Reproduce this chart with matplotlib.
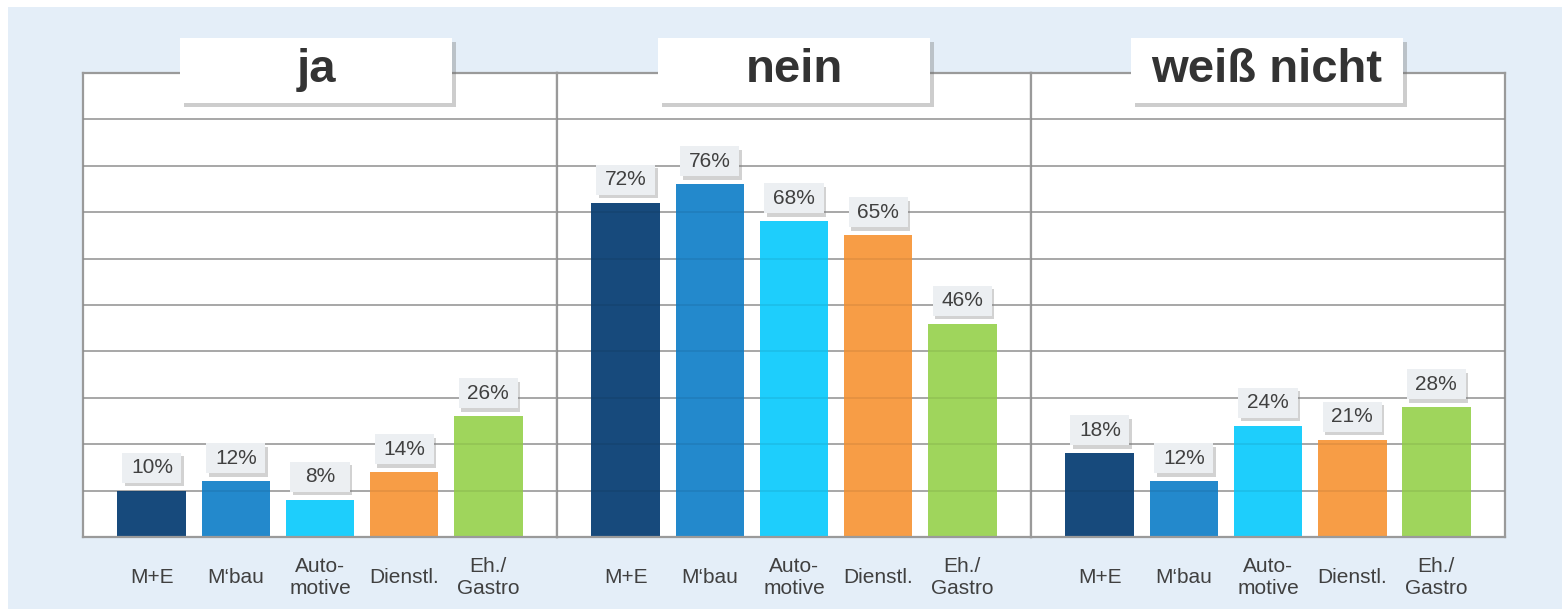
import matplotlib
matplotlib.use("Agg")
import matplotlib.pyplot as plt
from matplotlib.patches import Rectangle
import matplotlib.patheffects as pe

plt.rcParams['font.family'] = ['Liberation Sans', 'DejaVu Sans']

# ---- data ----
panels = ["ja", "nein", "weiß nicht"]
categories = ["M+E", "M‘bau", "Auto-\nmotive", "Dienstl.", "Eh./\nGastro"]
values_ja = [10, 12, 8, 14, 26]
values_nein = [72, 76, 68, 65, 46]
values_weiss = [18, 12, 24, 21, 28]
all_values = [values_ja, values_nein, values_weiss]
bar_colors = ["#174a7c", "#2389cc", "#1ecefc", "#f79d46", "#9fd55c"]

W, H = 1562, 609
fig = plt.figure(figsize=(W / 100, H / 100), dpi=100, facecolor="white")

# light blue background area
fig.add_artist(Rectangle((8 / W, 0), 1 - 8 / W, (H - 7) / H, transform=fig.transFigure,
                         facecolor="#e4eef8", edgecolor="none", zorder=-10))

left0, panel_w = 83, 474
top_px, bot_px = 73, 537
ax_h = bot_px - top_px
px_per_pct = ax_h / 100.0
title_shift = [-4, 0, -1]

for g, (title, vals) in enumerate(zip(panels, all_values)):
    ax = fig.add_axes([(left0 + panel_w * g) / W, (H - bot_px) / H, panel_w / W, ax_h / H])
    ax.set_facecolor("white")
    ax.set_xlim(-0.82, 4.82)
    ax.set_ylim(0, 100)
    yt = list(range(0, 101, 10))
    ax.set_yticks(yt)
    ax.yaxis.grid(True, color="#a8a8a8", linewidth=1.2, zorder=0)
    ax.set_axisbelow(True)
    ax.tick_params(axis="y", length=0, labelleft=False)
    for s in ax.spines.values():
        s.set_color("#9a9a9a")
        s.set_linewidth(1.6)

    x = list(range(len(categories)))
    ax.bar(x, vals, width=0.82, color=bar_colors, zorder=2, linewidth=0)
    # faint grid lines showing through the bars
    for t in yt[1:-1]:
        ax.axhline(t, color="#000000", alpha=0.08, linewidth=1.2, zorder=3)

    ax.set_xticks(x)
    ax.set_xticklabels(categories, fontsize=15, color="#404040", linespacing=1.2)
    ax.tick_params(axis="x", length=0, pad=29)
    for lbl in ax.get_xticklabels():
        lbl.set_verticalalignment("center")

    # value label boxes
    box_w = 59 / 84.0
    box_h = 30 / px_per_pct
    gap = 8 / px_per_pct
    for xi, v in zip(x, vals):
        r = Rectangle((xi - box_w / 2, v + gap), box_w, box_h, facecolor="#eceff2",
                      edgecolor="none", zorder=4, clip_on=False)
        r.set_path_effects([pe.SimplePatchShadow(offset=(2, -2.5), shadow_rgbFace="#808080", alpha=0.35),
                            pe.Normal()])
        ax.add_patch(r)
        ax.text(xi, v + gap + box_h / 2, f"{v}%", ha="center", va="center", fontsize=15,
                color="#404040", zorder=5, clip_on=False)

    # title box
    cx = (left0 + panel_w * g + panel_w / 2 + title_shift[g]) / W
    bw, bh = 272 / W, 65 / H
    by = (H - 103) / H
    tb = Rectangle((cx - bw / 2, by), bw, bh, transform=fig.transFigure, facecolor="white",
                   edgecolor="none", zorder=5)
    tb.set_path_effects([pe.SimplePatchShadow(offset=(3, -3), shadow_rgbFace="#707070", alpha=0.35),
                         pe.Normal()])
    fig.add_artist(tb)
    fig.text(cx, by + bh / 2, title, ha="center", va="center", fontsize=34, fontweight="bold",
             color="#333333", zorder=6)

fig.savefig("out.png", dpi=100, facecolor=fig.get_facecolor())
